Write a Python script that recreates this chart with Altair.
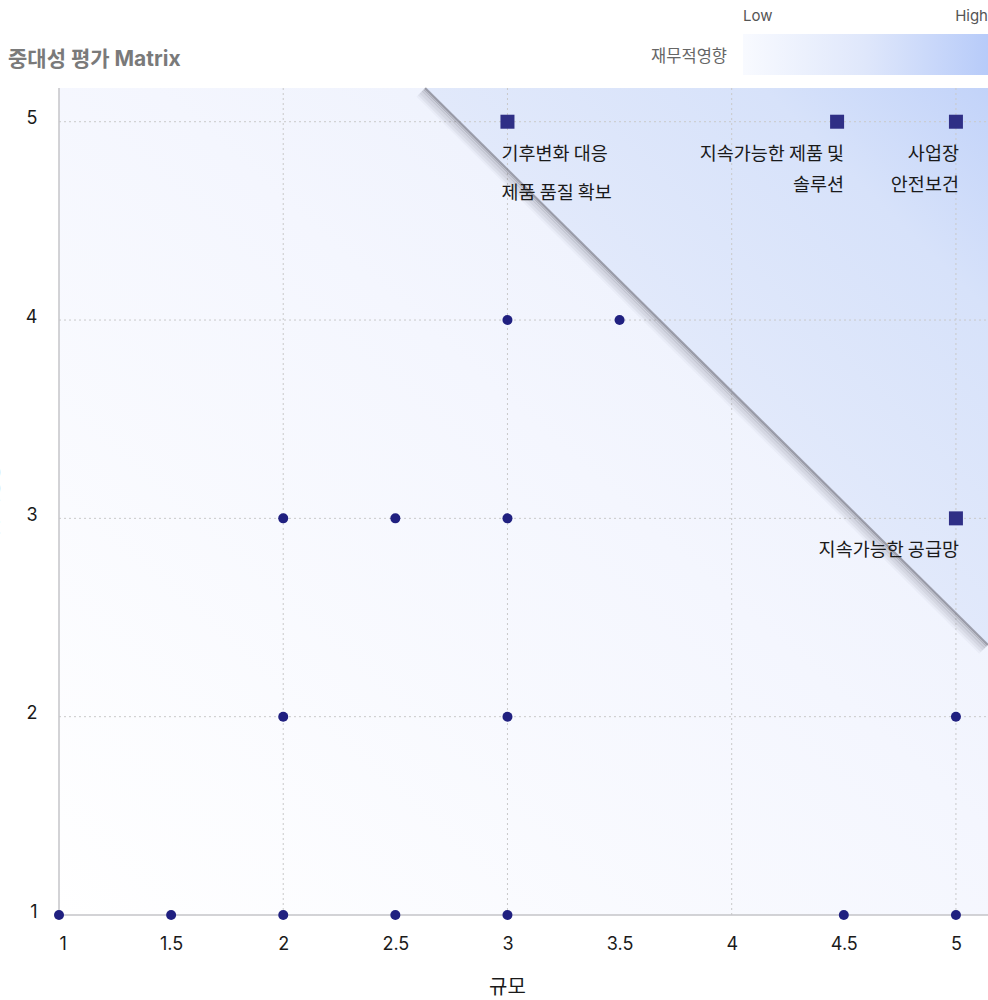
import altair as alt
import pandas as pd

FONT = "Inter, 'Noto Sans CJK KR', sans-serif"
KFONT = "'Noto Sans CJK KR', sans-serif"

# ---- data ----
circle_x = [1, 1.5, 2, 2.5, 3, 4.5, 5, 2, 3, 5, 2, 2.5, 3, 3, 3.5]
circle_y = [1, 1, 1, 1, 1, 1, 1, 2, 2, 2, 3, 3, 3, 4, 4]
square_x = [3, 4.47, 5, 5]
square_y = [5, 5, 5, 3]

label_left_x = [3]
label_left_y = [5]
label_left_text = ["기후변화 대응\n제품 품질 확보"]
label_mid_x = [4.47]
label_mid_y = [5]
label_mid_text = ["지속가능한 제품 및\n솔루션"]
label_right_x = [5, 5]
label_right_y = [5, 3]
label_right_text = ["사업장\n안전보건", "지속가능한 공급망"]

x_ticks = [1, 1.5, 2, 2.5, 3, 3.5, 4, 4.5, 5]
y_ticks = [1, 2, 3, 4, 5]
grid_x = [2, 3, 4, 5]
grid_y = [2, 3, 4, 5]
diag_x = [2.633, 5.143]
diag_y = [5.17, 2.362]
X_DOMAIN = [1, 5.143]
Y_DOMAIN = [1, 5.17]

W, H = 929, 827

xs = alt.Scale(domain=X_DOMAIN, nice=False, zero=False)
ys = alt.Scale(domain=Y_DOMAIN, nice=False, zero=False)

one = pd.DataFrame({"k": [0]})

# background gradient
bg = alt.Chart(one).mark_rect(
    fill=alt.Gradient(
        gradient="linear", x1=0, y1=1, x2=1, y2=0,
        stops=[alt.GradientStop(offset=0, color="#ffffff"),
               alt.GradientStop(offset=0.55, color="#f4f6fe"),
               alt.GradientStop(offset=1, color="#e6ecfb")]
    )
).encode(x=alt.value(0), x2=alt.value(W), y=alt.value(0), y2=alt.value(H))

diag_df = pd.DataFrame({"x": diag_x, "y": diag_y, "top": [Y_DOMAIN[1]] * len(diag_x)})

tri = alt.Chart(diag_df).mark_area(
    fill=alt.Gradient(
        gradient="linear", x1=0, y1=1, x2=1, y2=0,
        stops=[alt.GradientStop(offset=0, color="#eef2fd"),
               alt.GradientStop(offset=0.45, color="#e3eafb"),
               alt.GradientStop(offset=0.8, color="#d7e2fa"),
               alt.GradientStop(offset=1, color="#c2d3f9")]
    )
).encode(
    x=alt.X("x:Q", scale=xs, axis=alt.Axis(
        values=x_ticks, format="~g", grid=False, domain=False, ticks=False,
        labelFont=FONT, labelFontSize=18, labelColor="#1a1a1a", labelPadding=20,
        title="규모", titleFont=KFONT, titleFontSize=20, titleFontWeight="normal",
        titleColor="#1a1a1a", titleX=448, titleY=72, titleBaseline="middle")),
    y=alt.Y("y:Q", scale=ys, axis=alt.Axis(
        values=y_ticks, format="~g", grid=False, domain=False, ticks=False,
        labelFont=FONT, labelFontSize=18, labelColor="#1a1a1a", labelPadding=22,
        labelOffset=-3,
        title="재무적영향", titleFont=KFONT, titleFontSize=18, titleFontWeight="normal",
        titleColor="#aaaaaa", titleX=-58, titleY=417)),
    y2="top:Q",
)

gx = alt.Chart(pd.DataFrame({"g": grid_x})).mark_rule(
    color="#c9c9c9", strokeDash=[2, 3], strokeWidth=1
).encode(x=alt.X("g:Q", scale=xs), y=alt.value(0), y2=alt.value(H))

gy = alt.Chart(pd.DataFrame({"g": grid_y})).mark_rule(
    color="#c9c9c9", strokeDash=[2, 3], strokeWidth=1
).encode(y=alt.Y("g:Q", scale=ys), x=alt.value(0), x2=alt.value(W))

dom_x = alt.Chart(one).mark_rule(color="#c4c4c8", strokeWidth=1.5).encode(
    x=alt.value(0), x2=alt.value(W), y=alt.value(H))
dom_y = alt.Chart(one).mark_rule(color="#c4c4c8", strokeWidth=1.5).encode(
    x=alt.value(0), y=alt.value(0), y2=alt.value(H))

def diag_line(off, width, color, opacity):
    return alt.Chart(diag_df).mark_line(
        color=color, strokeWidth=width, opacity=opacity,
        xOffset=-off, yOffset=off, strokeCap="butt"
    ).encode(x=alt.X("x:Q", scale=xs), y=alt.Y("y:Q", scale=ys))

shadows = [
    diag_line(7, 5, "#505060", 0.04),
    diag_line(5.5, 5, "#505060", 0.07),
    diag_line(4, 4, "#505060", 0.11),
    diag_line(2.5, 3, "#505060", 0.18),
    diag_line(1, 2.5, "#606070", 0.35),
    diag_line(0, 2, "#7a7a86", 0.65),
]

circles = alt.Chart(pd.DataFrame({"x": circle_x, "y": circle_y})).mark_circle(
    color="#202080", size=100, opacity=1
).encode(x=alt.X("x:Q", scale=xs), y=alt.Y("y:Q", scale=ys))

squares = alt.Chart(pd.DataFrame({"x": square_x, "y": square_y})).mark_square(
    color="#2f2f86", size=196, opacity=1
).encode(x=alt.X("x:Q", scale=xs), y=alt.Y("y:Q", scale=ys))

def labels(xv, yv, tv, align, dx, dy, lh):
    return alt.Chart(pd.DataFrame({"x": xv, "y": yv, "t": tv})).mark_text(
        font=KFONT, fontSize=18.5, color="#1a1a1a", align=align, baseline="top",
        dx=dx, dy=dy, lineBreak="\n", lineHeight=lh
    ).encode(x=alt.X("x:Q", scale=xs), y=alt.Y("y:Q", scale=ys), text="t:N")

lab_left = labels(label_left_x, label_left_y, label_left_text, "left", -6, 23, 39)
lab_mid = labels(label_mid_x, label_mid_y, label_mid_text, "right", 7, 23, 31)
lab_right = labels(label_right_x, label_right_y, label_right_text, "right", 3, 23, 31)

title = alt.Chart(one).mark_text(
    text="중대성 평가 Matrix", font=FONT, fontSize=21, fontWeight="bold",
    color="#7a7a7a", align="left", baseline="middle"
).encode(x=alt.value(-51), y=alt.value(-28))

leg_rect = alt.Chart(one).mark_rect(
    fill=alt.Gradient(
        gradient="linear", x1=0, y1=0, x2=1, y2=0,
        stops=[alt.GradientStop(offset=0, color="#f8faff"),
               alt.GradientStop(offset=0.5, color="#dfe7fb"),
               alt.GradientStop(offset=1, color="#b7cbf9")]
    )
).encode(x=alt.value(684), x2=alt.value(W), y=alt.value(-54), y2=alt.value(-13))

leg_low = alt.Chart(one).mark_text(
    text="Low", font=FONT, fontSize=15, color="#555555", align="left", baseline="middle"
).encode(x=alt.value(684), y=alt.value(-72))
leg_high = alt.Chart(one).mark_text(
    text="High", font=FONT, fontSize=15, color="#555555", align="right", baseline="middle"
).encode(x=alt.value(W), y=alt.value(-72))
leg_name = alt.Chart(one).mark_text(
    text="재무적영향", font=KFONT, fontSize=16.5, color="#666666", align="right", baseline="middle"
).encode(x=alt.value(668), y=alt.value(-31))

chart = alt.layer(
    bg, tri, gx, gy, dom_x, dom_y, *shadows, circles, squares,
    lab_left, lab_mid, lab_right, title, leg_rect, leg_low, leg_high, leg_name
).properties(
    width=W, height=H,
    autosize=alt.AutoSizeParams(type="none"),
    padding={"left": 59, "top": 88, "right": 0, "bottom": 85},
    background="white",
).configure_view(stroke=None)

chart.save("out.html", embed_options={"renderer": "svg", "actions": False})
